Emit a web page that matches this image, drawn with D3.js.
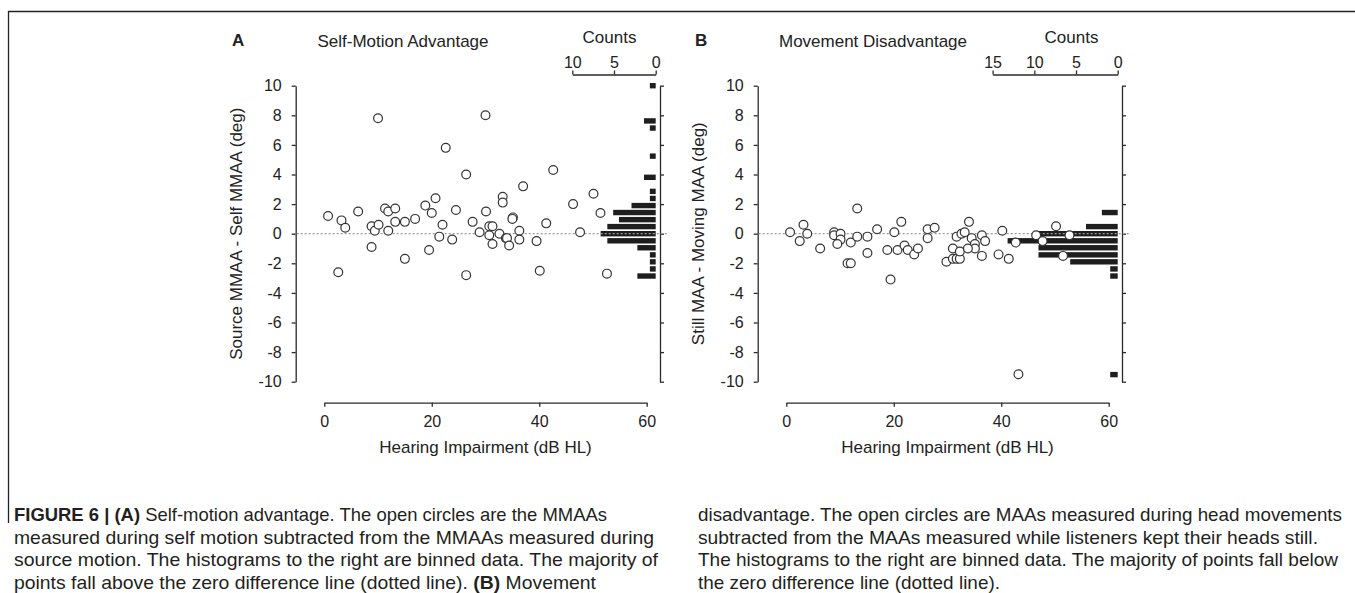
<!DOCTYPE html>
<html><head><meta charset="utf-8">
<script src="https://cdn.jsdelivr.net/npm/d3@7"></script>
<style>
body{margin:0;background:#fff;}
svg{display:block;font-family:"Liberation Sans",Arial,Helvetica,sans-serif;}
</style></head><body>
<svg id="c" width="1355" height="593"></svg>
<script>
// ---------------- data ----------------
const xTickValues = [0, 20, 40, 60];
const yTickValues = [10, 8, 6, 4, 2, 0, -2, -4, -6, -8, -10];
const countTicksA = [10, 5, 0];
const countTicksB = [15, 10, 5, 0];

// Panel A: hearing impairment (dB HL) vs Source MMAA - Self MMAA (deg)
const impairmentA = [10.0, 0.7, 3.2, 3.9, 2.6, 6.3, 8.8, 9.4, 10.1, 8.8, 11.3, 11.9, 13.2, 11.9, 13.2, 15.0, 16.9, 15.0,
  18.8, 20.0, 20.7, 19.5, 21.4, 22.0, 22.6, 23.8, 24.5, 26.4, 26.4, 27.6, 28.9, 30.0,
  30.1, 30.7, 31.3, 30.7, 31.3, 32.6, 33.2, 33.2, 33.8, 34.0, 34.4, 35.1, 35.0, 36.3, 36.3, 37.0,
  39.5, 40.1, 41.3, 42.6, 46.3, 47.6, 50.1, 51.4, 52.6];
const advantageA = [7.8, 1.2, 0.9, 0.4, -2.6, 1.5, 0.5, 0.2, 0.6, -0.9, 1.7, 1.5, 1.7, 0.2, 0.8, 0.8, 1.0, -1.7,
  1.9, 1.4, 2.4, -1.1, -0.2, 0.6, 5.8, -0.4, 1.6, 4.0, -2.8, 0.8, 0.1, 8.0,
  1.5, 0.5, 0.5, -0.1, -0.7, 0.0, 2.5, 2.1, -0.3, -0.3, -0.8, 1.1, 1.0, 0.2, -0.4, 3.2,
  -0.5, -2.5, 0.7, 4.3, 2.0, 0.1, 2.7, 1.4, -2.7];
const binCentersA = [10.0, 7.62, 7.14, 5.24, 3.81, 2.86, 2.38, 1.90, 1.43, 0.95, 0.48, 0.0, -0.48, -0.95, -1.43, -1.90, -2.38, -2.86];
const binCountsA  = [0.7, 1.4, 0.7, 0.7, 1.4, 0.7, 0.7, 2.9, 5.1, 4.4, 5.8, 6.6, 5.8, 2.2, 0.7, 0.7, 0.7, 2.2];

// Panel B: hearing impairment (dB HL) vs Still MAA - Moving MAA (deg)
const impairmentB = [0.7, 3.2, 3.9, 2.5, 6.3, 8.9, 8.9, 10.1, 10.1, 9.5, 11.4, 12.0, 12.0, 13.2, 13.2, 15.1, 15.1, 16.9,
  19.4, 18.8, 20.1, 20.7, 21.4, 22.0, 22.6, 23.8, 24.5, 26.3, 26.3, 27.6, 29.8, 31.0, 31.7, 32.3, 31.0, 32.3, 31.7,
  32.6, 33.2, 34.0, 34.5, 35.1, 35.1, 33.8, 36.4, 37.0, 36.4, 40.2, 39.5, 41.4, 42.7, 43.2,
  46.5, 47.7, 50.2, 52.7, 51.5];
const disadvantageB = [0.1, 0.6, 0.0, -0.5, -1.0, 0.1, -0.1, 0.0, -0.4, -0.7, -2.0, -2.0, -0.6, 1.7, -0.2, -0.2, -1.3, 0.3,
  -3.1, -1.1, 0.1, -1.1, 0.8, -0.8, -1.1, -1.4, -1.0, 0.3, -0.3, 0.4, -1.9, -1.7, -1.7, -1.7, -1.0, -1.2, -0.2,
  0.0, 0.1, 0.8, -0.3, -0.7, -1.0, -1.0, -0.1, -0.5, -1.5, 0.2, -1.4, -1.7, -0.6, -9.5,
  -0.1, -0.5, 0.5, -0.1, -1.5];
const binCentersB = [1.43, 0.48, 0.0, -0.48, -0.95, -1.43, -1.90, -2.38, -2.86, -9.52];
const binCountsB  = [1.9, 3.8, 9.5, 13.2, 9.5, 9.5, 5.7, 0.9, 0.9, 0.9];

const captionA = [
  [["FIGURE 6 | (A)", true], [" Self-motion advantage. The open circles are the MMAAs", false]],
  [["measured during self motion subtracted from the MMAAs measured during", false]],
  [["source motion. The histograms to the right are binned data. The majority of", false]],
  [["points fall above the zero difference line (dotted line). ", false], ["(B)", true], [" Movement", false]]
];
const captionB = [
  [["disadvantage. The open circles are MAAs measured during head movements", false]],
  [["subtracted from the MAAs measured while listeners kept their heads still.", false]],
  [["The histograms to the right are binned data. The majority of points fall below", false]],
  [["the zero difference line (dotted line).", false]]
];

// ---------------- drawing ----------------
const svg = d3.select("#c");
const INK = "#2a2a2a";

// frame lines
svg.append("line").attr("x1", 8).attr("x2", 1355).attr("y1", 11.5).attr("y2", 11.5)
  .attr("stroke", "#222").attr("stroke-width", 1.3);
svg.append("line").attr("x1", 8.5).attr("x2", 8.5).attr("y1", 11).attr("y2", 523)
  .attr("stroke", "#222").attr("stroke-width", 1.3);

function panel(o) {
  const dx = o.dx;
  const x = d3.scaleLinear().domain([0, 60]).range([324.3 + dx, 646.7 + dx]);
  const y = d3.scaleLinear().domain([-10, 10]).range([381.7, 85.7]);
  const c = d3.scaleLinear().domain([0, o.countMax]).range([655.7 + dx, o.countEnd + dx]);
  const leftX = 295.7 + dx, rightX = 660 + dx;
  const g = svg.append("g");
  const fmt = d => String(d);

  const styleAxis = sel => {
    sel.selectAll("path,line").attr("stroke", INK).attr("stroke-width", 1.3);
    sel.selectAll("text").attr("fill", "#222").style("font-size", "16px")
      .style("font-family", '"Liberation Sans",Arial,sans-serif');
  };

  // left y axis
  g.append("g").attr("transform", `translate(${leftX},0)`)
    .call(d3.axisLeft(y).tickValues(yTickValues).tickFormat(fmt).tickSize(4).tickSizeOuter(0).tickPadding(10))
    .call(styleAxis);
  // right axis (histogram)
  g.append("g").attr("transform", `translate(${rightX},0)`)
    .call(d3.axisRight(y).tickValues(yTickValues).tickSize(4).tickSizeOuter(0).tickFormat(""))
    .call(styleAxis);
  // bottom x axis
  g.append("g").attr("transform", `translate(0,402.7)`)
    .call(d3.axisBottom(x).tickValues(xTickValues).tickFormat(fmt).tickSize(4).tickSizeOuter(0).tickPadding(9))
    .call(styleAxis);
  // counts axis
  g.append("g").attr("transform", `translate(0,74.5)`)
    .call(d3.axisTop(c).tickValues(o.countTicks).tickFormat(fmt).tickSize(4).tickSizeOuter(0).tickPadding(3))
    .call(styleAxis);

  // histogram bars
  const barH = 5.4;
  g.selectAll("rect.bar").data(o.bins.map((b, i) => [b, o.counts[i]])).join("rect")
    .attr("class", "bar")
    .attr("x", d => c(d[1])).attr("width", d => c(0) - c(d[1]))
    .attr("y", d => y(d[0]) - barH / 2).attr("height", barH)
    .attr("fill", "#1e1e1e");

  // zero line
  g.append("line").attr("x1", leftX + 1).attr("x2", rightX + 8)
    .attr("y1", y(0)).attr("y2", y(0))
    .attr("stroke", "#9a9a9a").attr("stroke-width", 1.2).attr("stroke-dasharray", "2,2");

  // points
  g.selectAll("circle").data(o.xs.map((v, i) => [v, o.ys[i]])).join("circle")
    .attr("cx", d => x(d[0])).attr("cy", d => y(d[1])).attr("r", 4.4)
    .attr("fill", "#fff").attr("stroke", "#333").attr("stroke-width", 1.2);

  // texts
  const t = (tx, ty, s, opts = {}) => g.append("text").attr("x", tx).attr("y", ty)
    .attr("text-anchor", opts.anchor || "middle").attr("fill", "#222")
    .style("font-size", (opts.size || 17) + "px").style("font-weight", opts.bold ? "bold" : "normal").text(s);
  t(o.letterX, 46, o.letter, {anchor: "start", bold: true, size: 17});
  t(o.titleX, 47, o.title);
  t(609.5 + dx, 42.5, "Counts");
  t((x(0) + x(60)) / 2, 453, "Hearing Impairment (dB HL)");
  g.append("text").attr("transform", `translate(${241.5 + dx},${y(0)}) rotate(-90)`)
    .attr("text-anchor", "middle").attr("fill", "#222").style("font-size", "17px").text(o.ylabel);
}

panel({dx: 0, letter: "A", letterX: 232, title: "Self-Motion Advantage", titleX: 403,
  ylabel: "Source MMAA - Self MMAA (deg)", countMax: 10, countEnd: 572.3, countTicks: countTicksA,
  xs: impairmentA, ys: advantageA, bins: binCentersA, counts: binCountsA});
panel({dx: 462, letter: "B", letterX: 695, title: "Movement Disadvantage", titleX: 873,
  ylabel: "Still MAA - Moving MAA (deg)", countMax: 15, countEnd: 572.3 - 41.7, countTicks: countTicksB,
  xs: impairmentB, ys: disadvantageB, bins: binCentersB, counts: binCountsB});

// caption
const captionWidthsA = [593, 640, 644, 582];
const captionWidthsB = [644, 620, 640, 302];
function caption(lines, x0, widths) {
  const base = [521, 543.7, 566.3, 589];
  lines.forEach((segs, i) => {
    const tx = svg.append("text").attr("x", x0).attr("y", base[i]).attr("fill", "#231f20")
      .style("font-size", "19px")
      .attr("textLength", widths[i]).attr("lengthAdjust", "spacingAndGlyphs");
    segs.forEach(s => tx.append("tspan").style("font-weight", s[1] ? "bold" : "normal").text(s[0]));
  });
}
caption(captionA, 14, captionWidthsA);
caption(captionB, 698, captionWidthsB);
</script>
</body></html>
